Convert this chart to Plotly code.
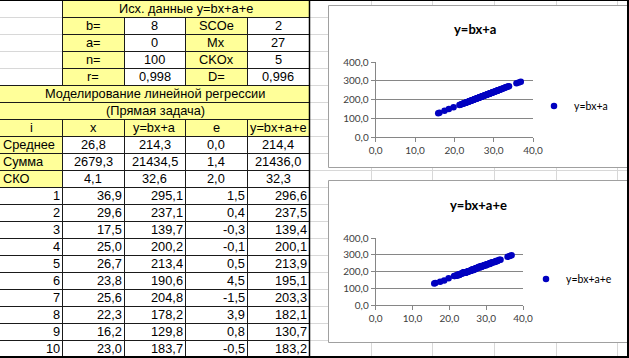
import plotly.graph_objects as go

W, H = 629, 358

# ---------------- table data ----------------
head_title = "Исх. данные y=bx+a+e"
param_labels_left = ["b=", "a=", "n=", "r="]
param_values_left = ["8", "0", "100", "0,998"]
param_labels_right = ["SCOe", "Mx", "CKOx", "D="]
param_values_right = ["2", "27", "5", "0,996"]
section_title = "Моделирование линейной регрессии"
section_subtitle = "(Прямая задача)"
col_headers = ["i", "x", "y=bx+a", "e", "y=bx+a+e"]
stat_labels = ["Среднее", "Сумма", "СКО"]
stat_x = ["26,8", "2679,3", "4,1"]
stat_ylin = ["214,3", "21434,5", "32,6"]
stat_e = ["0,0", "1,4", "2,0"]
stat_ynoisy = ["214,4", "21436,0", "32,3"]

row_index = [1, 2, 3, 4, 5, 6, 7, 8, 9, 10]
row_x = [36.9, 29.6, 17.5, 25.0, 26.7, 23.8, 25.6, 22.3, 16.2, 23.0]
row_ylin = [295.1, 237.1, 139.7, 200.2, 213.4, 190.6, 204.8, 178.2, 129.8, 183.7]
row_e = [1.5, 0.4, -0.3, -0.1, 0.5, 4.5, -1.5, 3.9, 0.8, -0.5]
row_ynoisy = [296.6, 237.5, 139.4, 200.1, 213.9, 195.1, 203.3, 182.1, 130.7, 183.2]

# ---------------- remaining chart points ----------------
x_more = [27.4, 31.2, 24.6, 28.9, 21.3, 33.1, 26.2, 29.8, 22.7, 30.5,
          25.3, 27.9, 32.4, 23.5, 28.1, 26.9, 19.8, 31.7, 24.1, 29.2,
          27.6, 22.1, 30.9, 25.8, 33.6, 26.4, 28.5, 21.8, 31.0, 24.9,
          27.1, 29.5, 23.2, 32.8, 26.0, 28.7, 18.6, 30.2, 25.5, 27.8,
          22.9, 31.5, 24.4, 29.0, 35.8, 26.6, 28.3, 23.8, 32.1, 25.1,
          27.3, 30.7, 21.5, 28.8, 26.3, 33.9, 24.7, 29.9, 27.0, 22.5,
          31.3, 25.7, 28.2, 23.9, 30.1, 26.8, 32.6, 24.2, 29.4, 27.5,
          15.9, 31.9, 25.9, 28.6, 22.8, 30.4, 26.1, 33.3, 24.5, 29.7,
          27.2, 23.4, 31.1, 25.2, 28.4, 36.4, 26.5, 30.8, 24.0, 29.1]
ylin_more = [219.2, 249.6, 196.8, 231.2, 170.4, 264.8, 209.6, 238.4, 181.6, 244.0,
             202.4, 223.2, 259.2, 188.0, 224.8, 215.2, 158.4, 253.6, 192.8, 233.6,
             220.8, 176.8, 247.2, 206.4, 268.8, 211.2, 228.0, 174.4, 248.0, 199.2,
             216.8, 236.0, 185.6, 262.4, 208.0, 229.6, 148.8, 241.6, 204.0, 222.4,
             183.2, 252.0, 195.2, 232.0, 286.4, 212.8, 226.4, 190.4, 256.8, 200.8,
             218.4, 245.6, 172.0, 230.4, 210.4, 271.2, 197.6, 239.2, 216.0, 180.0,
             250.4, 205.6, 225.6, 191.2, 240.8, 214.4, 260.8, 193.6, 235.2, 220.0,
             127.2, 255.2, 207.2, 228.8, 182.4, 243.2, 208.8, 266.4, 196.0, 237.6,
             217.6, 187.2, 248.8, 201.6, 227.2, 291.2, 212.0, 246.4, 192.0, 232.8]
ynoisy_more = [220.4, 247.5, 197.6, 230.7, 173.3, 263.4, 209.9, 240.1, 178.4, 244.6,
               201.5, 225.6, 257.4, 188.1, 226.3, 212.6, 159.3, 253.4, 195.9, 232.5,
               221.2, 175.1, 249.4, 205.7, 269.8, 207.7, 228.5, 176.3, 247.6, 196.9,
               219.5, 235.2, 186.9, 260.9, 208.2, 233.0, 146.8, 242.3, 202.8, 224.0,
               182.9, 254.0, 192.4, 232.9, 287.5, 212.2, 224.5, 192.9, 256.8, 199.8,
               220.2, 243.2, 172.6, 230.3, 212.7, 269.6, 199.0, 236.2, 216.8, 179.5,
               251.6, 203.4, 229.2, 190.3, 241.1, 213.1, 262.9, 192.9, 236.9, 217.5,
               127.7, 255.0, 209.1, 227.0, 185.0, 242.8, 207.7, 267.3, 193.1, 238.9,
               217.0, 190.0, 247.3, 202.0, 226.4, 292.8, 209.9, 246.6, 195.0, 231.4]

x_all = row_x + x_more
ylin_all = row_ylin + ylin_more
ynoisy_all = row_ynoisy + ynoisy_more

chart1_title = "y=bx+a"
chart2_title = "y=bx+a+e"

# ---------------- geometry helpers ----------------
def px(x):
    return x / W

def py(y):
    return 1 - y / H

RH = 17.0
def ry(k):
    return k * RH

SHEET_VCOLS = [62, 124, 185, 247, 309, 371, 432, 494, 556, 617]
YELLOW = "#FFFF99"
GRID = "#D8D8D8"
BORDER = "#1A1A1A"

shapes = []
annotations = []

def rect(x0, y0, x1, y1, fill, line=None, lw=1):
    shapes.append(dict(type="rect", xref="paper", yref="paper",
                       x0=px(x0), x1=px(x1), y0=py(y1), y1=py(y0),
                       fillcolor=fill,
                       line=dict(color=line if line else "rgba(0,0,0,0)", width=lw if line else 0),
                       layer="below"))

def hline(y, x0, x1, color, w=1):
    shapes.append(dict(type="line", xref="paper", yref="paper",
                       x0=px(x0), x1=px(x1), y0=py(y), y1=py(y),
                       line=dict(color=color, width=w), layer="below"))

def vline(x, y0, y1, color, w=1):
    shapes.append(dict(type="line", xref="paper", yref="paper",
                       x0=px(x), x1=px(x), y0=py(y0), y1=py(y1),
                       line=dict(color=color, width=w), layer="below"))

TFONT = dict(family="Liberation Sans, Arial, sans-serif", size=12.8, color="#000000")

def text(t, x, k, anchor="center"):
    annotations.append(dict(text=t, xref="paper", yref="paper",
                            x=px(x), y=py(ry(k) + RH / 2 + 0.3),
                            xanchor=anchor, yanchor="middle", showarrow=False,
                            font=TFONT, borderpad=0))

# sheet gridlines
for k in range(1, 21):
    hline(ry(k) + 0.5, 0, W, GRID)
for x in SHEET_VCOLS:
    vline(x + 0.5, 0, H, GRID)

# cell fills
rect(62, 0, 309, H, "#FFFFFF")
rect(0, ry(5), 62, H, "#FFFFFF")
rect(62, 0, 309, ry(1), YELLOW)
rect(62, ry(1), 124, ry(5), YELLOW)
rect(185, ry(1), 247, ry(5), YELLOW)
rect(0, ry(5), 309, ry(8), YELLOW)
rect(0, ry(8), 62, ry(11), YELLOW)

# table borders
for k in range(1, 5):
    hline(ry(k) + 0.5, 62, 309, BORDER)
for k in range(5, 21):
    hline(ry(k) + 0.5, 0, 309, BORDER)
vline(62.5, 0, ry(5), BORDER)
vline(62.5, ry(7), H, BORDER)
for x in [124, 185, 247]:
    vline(x + 0.5, ry(1), ry(5), BORDER)
    vline(x + 0.5, ry(7), H, BORDER)
vline(309.5, 0, H, "#000000", 1.5)

# texts
CX = [31, 93, 154.5, 216, 278]
text(head_title, 185.5, 0)
for i in range(4):
    text(param_labels_left[i], CX[1], i + 1)
    text(param_values_left[i], CX[2], i + 1)
    text(param_labels_right[i], CX[3], i + 1)
    text(param_values_right[i], CX[4], i + 1)
text(section_title, 155, 5)
text(section_subtitle, 155, 6)
for j, h in enumerate(col_headers):
    text(h, CX[j], 7)
for i in range(3):
    text(stat_labels[i], 1.5, 8 + i, "left")
    text(stat_x[i], CX[1], 8 + i)
    text(stat_ylin[i], CX[2], 8 + i)
    text(stat_e[i], CX[3], 8 + i)
    text(stat_ynoisy[i], CX[4], 8 + i)

def fmt(v):
    return f"{v:.1f}".replace(".", ",")

for i in range(10):
    k = 11 + i
    text(str(row_index[i]), 61, k, "right")
    text(fmt(row_x[i]), 123, k, "right")
    text(fmt(row_ylin[i]), 184, k, "right")
    text(fmt(row_e[i]), 246, k, "right")
    text(fmt(row_ynoisy[i]), 308, k, "right")

# chart boxes
CH1 = (328, 5, 660, 167)
CH2 = (328, 180, 660, 342)
rect(CH1[0] + 0.5, CH1[1] + 0.5, CH1[2], CH1[3] + 0.5, "#FFFFFF", "#A0A0A0", 1)
rect(CH2[0] + 0.5, CH2[1] + 0.5, CH2[2], CH2[3] + 0.5, "#FFFFFF", "#A0A0A0", 1)

# outer frame
hline(0.5, 0, W, "#000000", 1)
vline(628, 0, H, "#000000", 2)
hline(357, 0, W, "#000000", 2)

# chart titles
CFONT = "Lato, Carlito, sans-serif"
annotations.append(dict(text="<b>" + chart1_title + "</b>", xref="paper", yref="paper",
                        x=px(475), y=py(29), xanchor="center", yanchor="middle",
                        showarrow=False, font=dict(family=CFONT, size=13, color="#000000")))
annotations.append(dict(text="<b>" + chart2_title + "</b>", xref="paper", yref="paper",
                        x=px(478), y=py(205), xanchor="center", yanchor="middle",
                        showarrow=False, font=dict(family=CFONT, size=13, color="#000000")))

MARK = dict(color="#0000C0", size=6.5, line=dict(width=0))

fig = go.Figure()
fig.add_trace(go.Scatter(x=x_all, y=ylin_all, mode="markers", marker=MARK,
                         name=chart1_title, xaxis="x", yaxis="y", legend="legend"))
fig.add_trace(go.Scatter(x=x_all, y=ynoisy_all, mode="markers", marker=MARK,
                         name=chart2_title, xaxis="x2", yaxis="y2", legend="legend2"))

AX = dict(showline=True, linecolor="#868686", linewidth=1, ticks="outside", ticklen=4,
          tickcolor="#868686", zeroline=False, tickformat=".1f", fixedrange=True,
          tickfont=dict(family=CFONT, size=10, color="#404040"))

fig.update_layout(
    width=W, height=H, margin=dict(l=0, r=0, t=0, b=0, autoexpand=False),
    paper_bgcolor="#FFFFFF", plot_bgcolor="rgba(0,0,0,0)",
    separators=", ",
    shapes=shapes, annotations=annotations,
    xaxis=dict(AX, domain=[px(375.7), px(533)], range=[0, 40], dtick=10, showgrid=False,
               anchor="y"),
    yaxis=dict(AX, domain=[py(137), py(62)], range=[0, 400], dtick=100, showgrid=True,
               gridcolor="#868686", gridwidth=1, anchor="x"),
    xaxis2=dict(AX, domain=[px(375.7), px(523)], range=[0, 40], dtick=10, showgrid=False,
                anchor="y2"),
    yaxis2=dict(AX, domain=[py(305), py(238)], range=[0, 400], dtick=100, showgrid=True,
                gridcolor="#868686", gridwidth=1, anchor="x2"),
    legend=dict(x=px(534), y=py(106), xanchor="left", yanchor="middle",
                bgcolor="rgba(0,0,0,0)", itemwidth=30,
                font=dict(family=CFONT, size=10.5, color="#000000")),
    legend2=dict(x=px(526), y=py(279), xanchor="left", yanchor="middle",
                 bgcolor="rgba(0,0,0,0)", itemwidth=30,
                 font=dict(family=CFONT, size=10.5, color="#000000")),
    showlegend=True,
)

fig.write_html("out.html", config={"displayModeBar": False},
               post_script="document.body.style.margin='0';document.body.style.padding='0';")
